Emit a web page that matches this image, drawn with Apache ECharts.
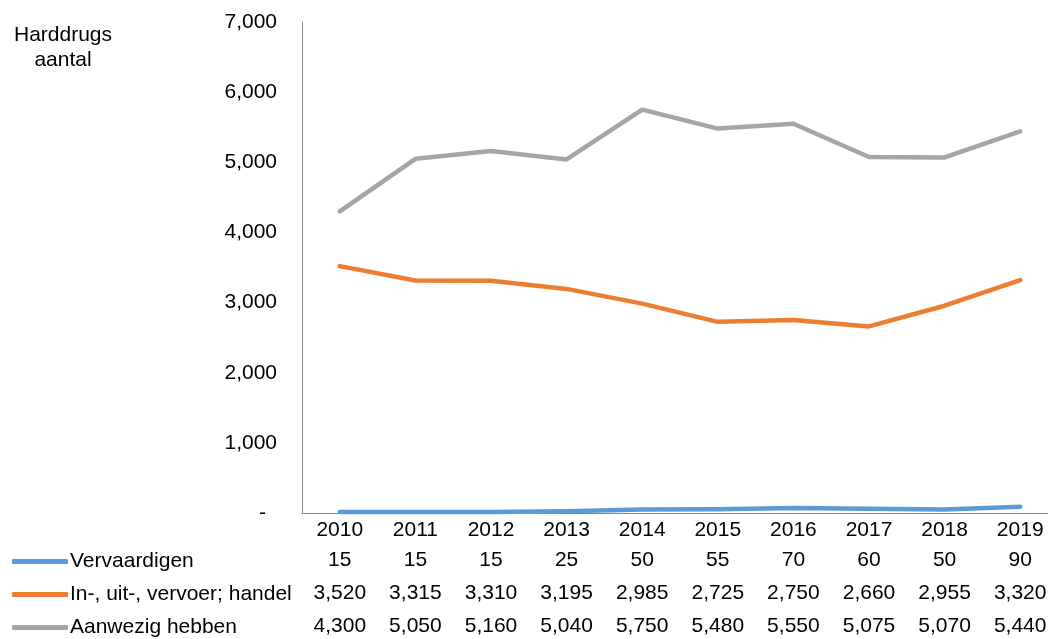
<!DOCTYPE html>
<html><head><meta charset="utf-8">
<script src="https://cdn.jsdelivr.net/npm/echarts@6/dist/echarts.min.js"></script>
<style>html,body{margin:0;padding:0;background:#fff}#c{width:1048px;height:639px}</style>
</head><body><div id="c"></div>
<script>
const years = ['2010','2011','2012','2013','2014','2015','2016','2017','2018','2019'];
const vervaardigen = [15,15,15,25,50,55,70,60,50,90];
const handel = [3520,3315,3310,3195,2985,2725,2750,2660,2955,3320];
const aanwezig = [4300,5050,5160,5040,5750,5480,5550,5075,5070,5440];
const seriesNames = ['Vervaardigen','In-, uit-, vervoer; handel','Aanwezig hebben'];
const colors = ['#5B9BD5','#ED7D31','#A5A5A5'];
const yTicks = {min:0, max:7000, interval:1000};

const fmt = v => v.toLocaleString('en-US');
const FONT = '"Liberation Sans", Arial, sans-serif';
const FS = 21;

function tableAxis(values, offset){
  return {
    type:'category', data: values.map(fmt), position:'bottom', offset: offset,
    axisLine:{show:false}, axisTick:{show:false}, boundaryGap:true,
    axisLabel:{color:'#000', fontSize:FS, fontFamily:FONT, margin:7, interval:0}
  };
}
function legendAt(i, top){
  return {
    data:[seriesNames[i]], left:7, top: top, orient:'vertical',
    icon:'roundRect', itemWidth:56, itemHeight:5, itemGap:0,
    textStyle:{color:'#000', fontSize:FS, fontFamily:FONT, padding:[0,0,0,-3]},
    selectedMode:false
  };
}
function lineSeries(i, data){
  return {name:seriesNames[i], type:'line', data:data, smooth:false, showSymbol:false, symbol:'none',
    lineStyle:{color:colors[i], width:4.5, cap:'round', join:'round'}, itemStyle:{color:colors[i]}};
}

const chart = echarts.init(document.getElementById('c'), null, {renderer:'canvas'});
chart.setOption({
  animation:false,
  backgroundColor:'#fff',
  grid:{left:302, right:-10, top:22, bottom:126, containLabel:false, outerBoundsMode:'none'},
  graphic:[{
    type:'text', x:63, y:23,
    style:{text:'Harddrugs\naantal', fill:'#000', font:'21px "Liberation Sans", Arial, sans-serif', align:'center', verticalAlign:'top', lineHeight:25}
  }],
  legend:[legendAt(0,546), legendAt(1,579), legendAt(2,612)],
  xAxis:[
    {type:'category', data:years, position:'bottom', boundaryGap:true,
     axisLine:{show:true, lineStyle:{color:'#868686', width:1}}, axisTick:{show:false},
     axisLabel:{color:'#000', fontSize:FS, fontFamily:FONT, margin:7, interval:0}},
    tableAxis(vervaardigen, 30),
    tableAxis(handel, 63),
    tableAxis(aanwezig, 96)
  ],
  yAxis:{type:'value', min:yTicks.min, max:yTicks.max, interval:yTicks.interval,
    axisLine:{show:true, lineStyle:{color:'#868686', width:1}}, axisTick:{show:false},
    splitLine:{show:false},
    axisLabel:{color:'#000', fontSize:FS, fontFamily:FONT, margin:25,
      formatter: v => v === 0 ? '{d|-}' : fmt(v),
      rich:{d:{fontSize:FS, fontFamily:FONT, color:'#000', padding:[0,11,0,0]}}}
  },
  series:[lineSeries(0, vervaardigen), lineSeries(1, handel), lineSeries(2, aanwezig)]
});
</script></body></html>
